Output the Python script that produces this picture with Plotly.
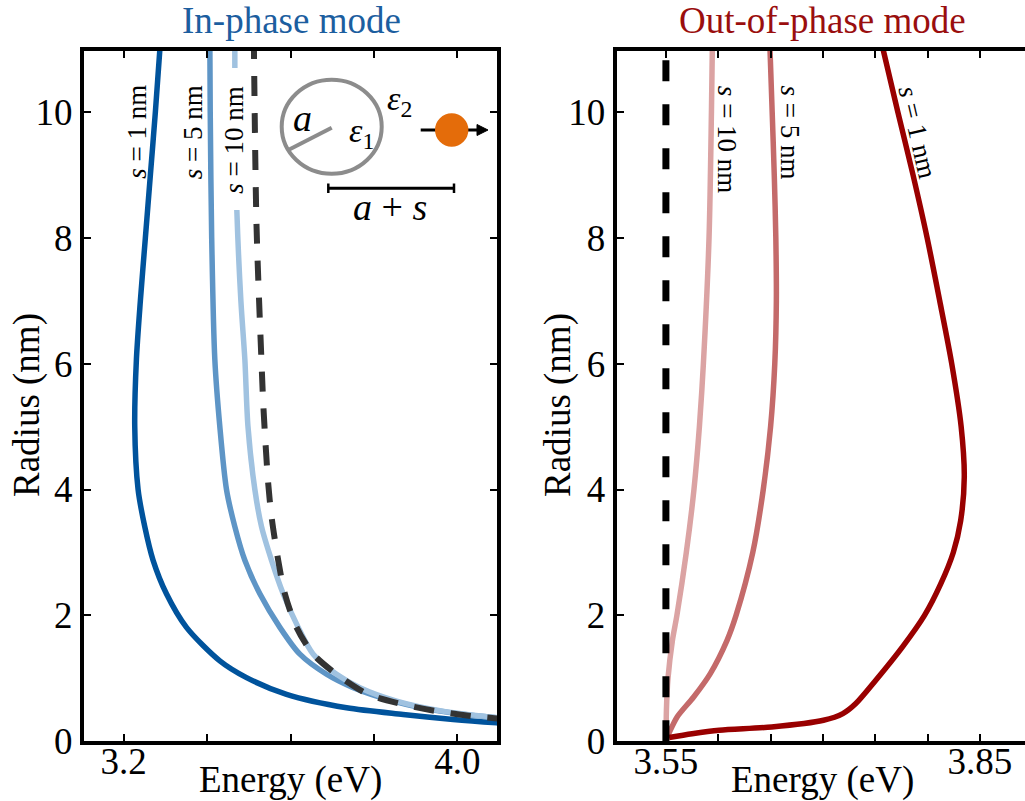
import plotly.graph_objects as go

# ---------------- data ----------------
# Left panel: in-phase mode, radius (nm) vs energy (eV)
in_s1_radius = [0.27, 0.293, 0.346, 0.426, 0.532, 0.746, 1.012, 1.278, 1.81, 2.343, 2.875, 3.41, 4.0, 5.0, 6.07, 7.0, 8.0, 9.0, 10.0, 11.2]
in_s1_energy = [4.15, 4.0945, 3.990, 3.870, 3.7345, 3.5905, 3.4945, 3.4305, 3.3505, 3.3025, 3.2705, 3.2505, 3.2345, 3.2265, 3.2305, 3.240, 3.252, 3.264, 3.276, 3.289]

in_s5_radius = [0.34, 0.373, 0.479, 0.639, 0.852, 1.065, 1.384, 1.81, 2.343, 2.875, 3.41, 4.0, 5.0, 6.07, 8.0, 10.0, 11.2]
in_s5_energy = [4.15, 4.0945, 3.9585, 3.8465, 3.7505, 3.6865, 3.6225, 3.5745, 3.5265, 3.4905, 3.4665, 3.4465, 3.4305, 3.4185, 3.411, 3.4075, 3.4065]

in_s10_radius = [0.34, 0.373, 0.479, 0.639, 0.852, 1.065, 1.384, 1.81, 2.343, 2.875, 3.41, 4.0, 5.0, 6.07, 7.0, 8.4, 10.0, 11.2]
in_s10_energy = [4.16, 4.10, 3.965, 3.8545, 3.7665, 3.7105, 3.6545, 3.6185, 3.5825, 3.5545, 3.5305, 3.5145, 3.498, 3.4905, 3.481, 3.4715, 3.467, 3.4665]

in_iso_radius = [0.35, 0.399, 0.479, 0.586, 0.746, 1.065, 1.384, 1.81, 2.343, 2.875, 3.57, 4.10, 4.74, 5.38, 6.02, 8.2, 11.2]
in_iso_energy = [4.12, 4.038, 3.9505, 3.870, 3.7865, 3.7105, 3.6545, 3.6145, 3.5865, 3.5705, 3.5545, 3.5465, 3.540, 3.5345, 3.5305, 3.5185, 3.512]

# Right panel: out-of-phase mode
out_s1_radius = [0.06, 0.12, 0.175, 0.227, 0.334, 0.44, 0.60, 0.97, 1.5, 2.0, 2.5, 3.0, 3.5, 4.2, 5.0, 6.0, 7.0, 8.0, 9.0, 10.0, 11.2]
out_s1_energy = [3.553, 3.575, 3.601, 3.651, 3.7005, 3.719, 3.7314, 3.7505, 3.776, 3.797, 3.8125, 3.8245, 3.8315, 3.835, 3.832, 3.823, 3.8115, 3.7995, 3.786, 3.7715, 3.7545]

out_s5_radius = [0.05, 0.122, 0.386, 0.704, 1.076, 1.6, 2.0, 3.0, 4.0, 5.0, 6.0, 7.0, 8.0, 9.0, 10.0, 11.2]
out_s5_energy = [3.5505, 3.5527, 3.5607, 3.5765, 3.5924, 3.6083, 3.617, 3.633, 3.643, 3.650, 3.654, 3.6555, 3.655, 3.6535, 3.6515, 3.649]

out_s10_radius = [0.05, 0.5, 1.0, 1.6, 2.0, 3.0, 4.0, 5.0, 6.0, 8.0, 10.0, 11.2]
out_s10_energy = [3.5502, 3.5505, 3.552, 3.5562, 3.5605, 3.5695, 3.5768, 3.582, 3.5858, 3.5912, 3.5935, 3.5945]

out_ref_radius = [0.0, 11.2]
out_ref_energy = [3.55, 3.55]

# axis ticks
left_xticks_major = [3.2, 4.0]
left_xticks_text = ["3.2", "4.0"]
left_xticks_minor = [3.4, 3.6, 3.8]
right_xticks_major = [3.55, 3.85]
right_xticks_text = ["3.55", "3.85"]
right_xticks_minor = [3.60, 3.65, 3.70, 3.75, 3.80]
yticks = [0, 2, 4, 6, 8, 10]

# ---------------- figure ----------------
W, H = 1025, 801
FONT = "Liberation Serif, Tinos, Times New Roman, DejaVu Serif, serif"


def px(x):
    return x / W


def py(y):
    return 1 - y / H


fig = go.Figure()

left_traces = [
    (in_s1_energy, in_s1_radius, "#00539C", 5.5, None),
    (in_s5_energy, in_s5_radius, "#5E95C6", 5.5, None),
    (in_s10_energy, in_s10_radius, "#A0C2E0", 5.5, None),
    (in_iso_energy, in_iso_radius, "#333333", 6, "20px,17px"),
]
for xs, ys, col, w, dash in left_traces:
    fig.add_trace(go.Scatter(x=xs, y=ys, mode="lines", xaxis="x", yaxis="y",
                             line=dict(color=col, width=w, dash=dash, shape="spline", smoothing=0.8),
                             showlegend=False, hoverinfo="skip"))

right_traces = [
    (out_s10_energy, out_s10_radius, "#DBA3A3", 5.5, None),
    (out_s5_energy, out_s5_radius, "#C46A6A", 5.5, None),
    (out_s1_energy, out_s1_radius, "#990000", 5.5, None),
    (out_ref_energy, out_ref_radius, "#000000", 7, "21px,23px"),
]
for xs, ys, col, w, dash in right_traces:
    fig.add_trace(go.Scatter(x=xs, y=ys, mode="lines", xaxis="x2", yaxis="y2",
                             line=dict(color=col, width=w, dash=dash, shape="spline", smoothing=0.8),
                             showlegend=False, hoverinfo="skip"))

axis_common = dict(showline=True, linewidth=4, linecolor="black", ticks="inside",
                   ticklen=7, tickwidth=2, tickcolor="black", showgrid=False, zeroline=False,
                   automargin=False,
                   tickfont=dict(family=FONT, size=37, color="black"))
minor_common = dict(ticks="inside", ticklen=7, tickwidth=2, tickcolor="black", showgrid=False)

ydom = [py(741.3), py(51)]
yrange = [0, (741.3 - 51) / 62.95]

fig.update_layout(
    width=W, height=H, margin=dict(l=0, r=0, t=0, b=0, autoexpand=False),
    plot_bgcolor="white", paper_bgcolor="white",
    font=dict(family=FONT),
    xaxis=dict(domain=[px(84), px(497)], range=[3.1048, 4.0952], tickvals=left_xticks_major,
               ticktext=left_xticks_text, minor=dict(tickvals=left_xticks_minor, **minor_common),
               mirror="ticks", anchor="y", ticklabelstandoff=-16, **axis_common),
    yaxis=dict(domain=ydom, range=yrange, tickvals=yticks, mirror="ticks", anchor="x", **axis_common),
    xaxis2=dict(domain=[px(616.7), 1.0], range=[3.503, 3.893], tickvals=right_xticks_major,
                ticktext=right_xticks_text, minor=dict(tickvals=right_xticks_minor, **minor_common),
                mirror="ticks", anchor="y2", ticklabelstandoff=-16, **axis_common),
    yaxis2=dict(domain=ydom, range=yrange, tickvals=yticks, mirror=False, anchor="x2", **axis_common),
)

# white gap behind the s = 10 nm label in the left panel
fig.add_shape(type="rect", xref="paper", yref="paper", x0=px(229), x1=px(242), y0=py(210), y1=py(68),
              fillcolor="white", line=dict(width=0), layer="above")

# ---------------- inset sketch ----------------
gray = "#8c8c8c"
fig.add_shape(type="circle", xref="paper", yref="paper", x0=px(331.7 - 50), x1=px(331.7 + 50),
              y0=py(126.7 + 47), y1=py(126.7 - 47), line=dict(color=gray, width=4), layer="above")
fig.add_shape(type="line", xref="paper", yref="paper", x0=px(288.3), y0=py(150), x1=px(331.7), y1=py(127.7),
              line=dict(color=gray, width=4), layer="above")
# dipole arrow
fig.add_shape(type="line", xref="paper", yref="paper", x0=px(420.7), y0=py(130), x1=px(480), y1=py(130),
              line=dict(color="black", width=3), layer="above")
fig.add_shape(type="path", xref="paper", yref="paper",
              path=f"M {px(477)} {py(124.5)} L {px(488)} {py(130)} L {px(477)} {py(135.5)} Z",
              fillcolor="black", line=dict(color="black", width=1), layer="above")
fig.add_shape(type="circle", xref="paper", yref="paper", x0=px(451.7 - 16.7), x1=px(451.7 + 16.7),
              y0=py(130 + 16.7), y1=py(130 - 16.7), fillcolor="#E46C0A", line=dict(width=0), layer="above")
# distance bar
fig.add_shape(type="line", xref="paper", yref="paper", x0=px(328.3), y0=py(188.3), x1=px(454), y1=py(188.3),
              line=dict(color="black", width=3), layer="above")
for xb in (328.3, 454):
    fig.add_shape(type="line", xref="paper", yref="paper", x0=px(xb), y0=py(183.5), x1=px(xb), y1=py(193),
                  line=dict(color="black", width=2.5), layer="above")


def ann(text, x, y, size, color="black", angle=0, xref="paper", yref="paper"):
    fig.add_annotation(text=text, x=x, y=y, xref=xref, yref=yref, showarrow=False,
                       textangle=angle, xanchor="center", yanchor="middle",
                       font=dict(family=FONT, size=size, color=color))


ann("<i>a</i>", px(302), py(118), 38)
ann("<i>ε</i><sub>1</sub>", px(361), py(133), 34)
ann("<i>ε</i><sub>2</sub>", px(399), py(101), 34)
ann("<i>a</i> + <i>s</i>", px(390), py(207), 38)

# curve labels
ann("<i>s</i> = 1 nm", 3.2316, 9.68, 27, angle=-90, xref="x", yref="y")
ann("<i>s</i> = 5 nm", 3.3656, 9.67, 27, angle=-90, xref="x", yref="y")
ann("<i>s</i> = 10 nm", 3.466, 9.55, 27, angle=-90, xref="x", yref="y")
ann("<i>s</i> = 10 nm", 3.6086, 9.55, 27, angle=90, xref="x2", yref="y2")
ann("<i>s</i> = 5 nm", 3.6686, 9.67, 27, angle=90, xref="x2", yref="y2")
ann("<i>s</i> = 1 nm", 3.7905, 9.68, 27, angle=77, xref="x2", yref="y2")

# titles
ann("In-phase mode", px(291), py(21), 37, color="#1C5E9F")
ann("Out-of-phase mode", px(822), py(21), 37, color="#9A0E0E")

# axis titles
ann("Energy (eV)", px(290), py(780), 37)
ann("Energy (eV)", px(822), py(780), 37)
ann("Radius (nm)", px(27), py(405), 37, angle=-90)
ann("Radius (nm)", px(558), py(405), 37, angle=-90)

fig.write_html("out.html")
